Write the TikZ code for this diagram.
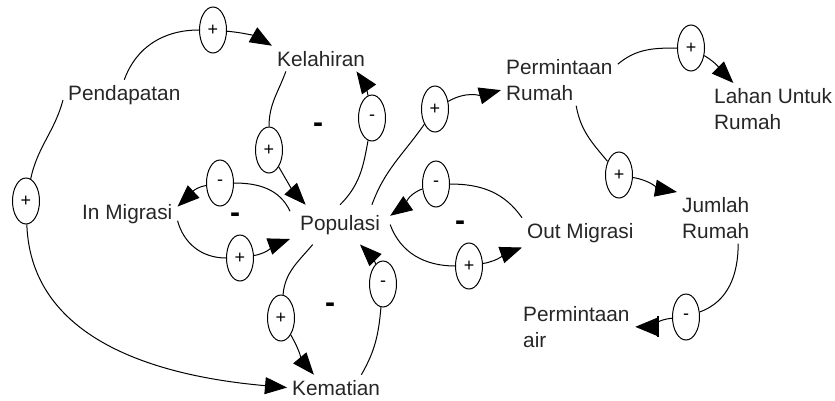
\documentclass[tikz,border=0pt]{standalone}
\usepackage{fontspec}
\setmainfont{Liberation Sans}
\usetikzlibrary{shapes.geometric,arrows.meta}
\tikzset{
  var/.style={inner sep=5pt, font=\fontsize{20.8}{26}\selectfont, text=black!85, align=left},
  polar/.style={draw, ellipse, minimum width=27pt, minimum height=46pt, inner sep=0pt,
    line width=1pt, font=\fontsize{18}{18}\selectfont},
  loopsign/.style={font=\fontsize{30}{30}\selectfont\bfseries, inner sep=0pt},
  line/.style={line width=1pt},
  link/.style={line width=1pt, -{Triangle[length=22pt,width=17pt]}},
  barlink/.style={line width=1pt, -{Bar[width=21pt,line width=2pt]Triangle[length=22pt,width=18pt,sep=0.5pt]}},
}

\begin{document}
\begin{tikzpicture}[x=1pt,y=1pt]
\useasboundingbox (0,0) rectangle (835,400);
% variabel
\node[var,anchor=base west] (pend) at (63,300) {Pendapatan};
\node[var,anchor=base west] (kel) at (272,334) {Kelahiran};
\node[var,anchor=base west,inner sep=10pt] (pop) at (290,170) {Populasi};
\node[var,anchor=base west] (inmig) at (77,181) {In Migrasi};
\node[var,anchor=base west] (outmig) at (522,162) {Out Migrasi};
\node[var,anchor=base west] (kem) at (287,5) {Kematian};
\node[var,anchor=north west] (perm) at (501,346) {Permintaan\\Rumah};
\node[var,anchor=north west] (lahan) at (709,317) {Lahan Untuk\\Rumah};
\node[var,anchor=north west] (jumlah) at (677,208) {Jumlah\\Rumah};
\node[var,anchor=north west] (permair) at (518,99) {Permintaan\\air};
% polaritas
\node[polar] (p1) at (213,370) {+};
\node[polar] (p2) at (269,250) {+};
\node[polar] (p3) at (372,282) {-};
\node[polar] (p4) at (26,199) {+};
\node[polar] (p5) at (220,217) {-};
\node[polar] (p6) at (240,142) {+};
\node[polar] (p7) at (281,82) {+};
\node[polar] (p8) at (383,116) {-};
\node[polar] (p9) at (435,291) {+};
\node[polar] (p10) at (436,216) {-};
\node[polar] (p11) at (469,134) {+};
\node[polar] (p12) at (691,352) {+};
\node[polar] (p13) at (619,225) {+};
\node[polar] (p14) at (686,83) {-};
% tanda loop
\node[loopsign] (l1) at (318,272) {-};
\node[loopsign] (l2) at (235,182) {-};
\node[loopsign] (l3) at (330,92) {-};
\node[loopsign] (l4) at (460,174) {-};
% hubungan
\draw[line] (pend.north) to[out=70,in=180] (p1);
\draw[link] (p1) to[out=-5,in=150] (kel.north west);
\draw[line] (kel.-160) to[out=-110,in=90] (p2);
\draw[link] (p2) to[out=-60,in=133] (pop.150);
\draw[line] (pop.north) to[out=45,in=-100] (p3);
\draw[link] (p3) to[out=100,in=-55] (kel.-20);
\draw[line] (pend.-175) to[out=-105,in=78] (p4);
\draw[link] (p4) to[out=-88,in=175] (kem.west);
\draw[line] (pop.165) to[out=115,in=0] (p5);
\draw[link] (p5) to[out=190,in=43] (inmig.8);
\draw[line] (inmig.-8) to[out=-75,in=180] (p6);
\draw[link] (p6) to[out=10,in=200] (pop.-164);
\draw[line] (pop.-144) to[out=-130,in=85] (p7);
\draw[link] (p7) to[out=-60,in=130] (kem.150);
\draw[line] (kem.27) to[out=60,in=-95] (p8);
\draw[link] (p8) to[out=110,in=-45] (pop.-45);
\draw[line] (pop.32) to[out=70,in=-125] (p9);
\draw[link] (p9) to[out=30,in=195] (perm.-170);
\draw[line] (outmig.north west) to[out=125,in=0] (p10);
\draw[link] (p10) to[out=200,in=35] (pop.10);
\draw[line] (pop.east) to[out=-70,in=180] (p11);
\draw[link] (p11) to[out=10,in=200] (outmig.south west);
\draw[line] (perm.15) to[out=40,in=180] (p12);
\draw[link] (p12) to[out=-30,in=135] (lahan.147);
\draw[line] (perm.-57) to[out=-80,in=130] (p13);
\draw[link] (p13) to[out=-10,in=170] (jumlah.north west);
\draw[line] (jumlah.-49) to[out=-90,in=20] (p14);
\draw[barlink] (p14) to[out=185,in=0] (permair.east);
\end{tikzpicture}
\end{document}
